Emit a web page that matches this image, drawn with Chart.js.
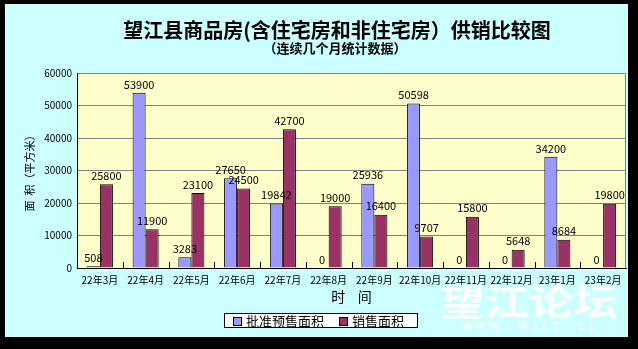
<!DOCTYPE html>
<html>
<head>
<meta charset="utf-8">
<script src="https://cdn.jsdelivr.net/npm/chart.js@4.4.0/dist/chart.umd.min.js"></script>
<style>
    body { margin: 0; background: #000; }
    #wrap { width: 638px; height: 349px; position: relative; }
</style>
</head>
<body>
<div id="wrap"><canvas id="chart1"></canvas></div>
<script>
var months = ["22年3月", "22年4月", "22年5月", "22年6月", "22年7月", "22年8月",
    "22年9月", "22年10月", "22年11月", "22年12月", "23年1月", "23年2月"];
var presaleArea = [508, 53900, 3283, 27650, 19842, 0, 25936, 50598, 0, 0, 34200, 0];
var salesArea = [25800, 11900, 23100, 24500, 42700, 19000, 16400, 9707, 15800, 5648, 8684, 19800];
var seriesNames = ["批准预售面积", "销售面积"];
var yTicks = [0, 10000, 20000, 30000, 40000, 50000, 60000];

var titleText = "望江县商品房(含住宅房和非住宅房）供销比较图";
var subtitleText = "（连续几个月统计数据）";

var fontName = "'Noto Sans CJK SC', 'Noto Sans', sans-serif";
Chart.defaults.font.family = fontName;
Chart.defaults.color = "#000";

// black frame, cyan panel, yellow plot area
var backgroundPlugin = {
    id: "panel",
    beforeDraw: function (chart) {
        var ctx = chart.ctx;
        var area = chart.chartArea;
        ctx.save();
        ctx.fillStyle = "#000";
        ctx.fillRect(0, 0, chart.width, chart.height);
        ctx.fillStyle = "#CCFFFF";
        ctx.fillRect(5, 4, 623, 333);
        ctx.fillStyle = "#FFFFCC";
        ctx.fillRect(area.left, area.top, area.right - area.left, area.bottom - area.top);
        ctx.restore();
    },
    afterDraw: function (chart) {
        var ctx = chart.ctx;
        var area = chart.chartArea;
        var x = chart.scales.x;
        ctx.save();
        // right edge of plot
        ctx.strokeStyle = "#808080";
        ctx.lineWidth = 1;
        ctx.beginPath();
        ctx.moveTo(Math.round(area.right) - 0.5, area.top);
        ctx.lineTo(Math.round(area.right) - 0.5, area.bottom);
        ctx.stroke();
        // inner tick marks between categories
        ctx.strokeStyle = "#000";
        ctx.beginPath();
        for (var i = 1; i < months.length; i++) {
            var px = Math.round(x.getPixelForValue(i - 0.5)) + 0.5;
            ctx.moveTo(px, area.bottom);
            ctx.lineTo(px, area.bottom - 6);
        }
        ctx.stroke();

        // titles
        ctx.fillStyle = "#000";
        ctx.textAlign = "center";
        ctx.textBaseline = "middle";
        ctx.font = "bold 20px " + fontName;
        ctx.fillText(titleText, 337, 30);
        ctx.font = "bold 13px " + fontName;
        ctx.fillText(subtitleText, 335, 48);

        // watermark (stretched a bit sideways like the original)
        ctx.fillStyle = "rgba(255,255,255,0.92)";
        ctx.save();
        ctx.translate(529, 302);
        ctx.scale(1.2, 1);
        ctx.font = "bold 37px " + fontName;
        ctx.fillText("望江论坛", 0, 0);
        ctx.restore();
        ctx.font = "bold 10px " + fontName;
        ctx.fillText("W  W  W  ·  W  J  L  T  ·  C  C", 529, 326);

        // legend box
        var lx = 224, ly = 313, lw = 194, lh = 15;
        ctx.fillStyle = "#fff";
        ctx.fillRect(lx, ly, lw, lh);
        ctx.strokeStyle = "#000";
        ctx.strokeRect(lx + 0.5, ly + 0.5, lw - 1, lh - 1);
        ctx.textAlign = "left";
        ctx.font = "13px " + fontName;
        var itemX = [233, 339];
        chart.data.datasets.forEach(function (ds, i) {
            ctx.fillStyle = ds.backgroundColor;
            ctx.fillRect(itemX[i], 317, 9, 9);
            ctx.strokeRect(itemX[i] + 0.5, 317.5, 8, 8);
            ctx.fillStyle = "#000";
            ctx.fillText(ds.label, itemX[i] + 13, 321);
        });
        ctx.restore();
    }
};

// value labels above every bar
var valueLabels = {
    id: "valueLabels",
    afterDatasetsDraw: function (chart) {
        var ctx = chart.ctx;
        ctx.save();
        ctx.font = "11px " + fontName;
        ctx.fillStyle = "#000";
        ctx.textAlign = "center";
        ctx.textBaseline = "bottom";
        chart.data.datasets.forEach(function (ds, i) {
            chart.getDatasetMeta(i).data.forEach(function (bar, j) {
                ctx.fillText(String(ds.data[j]), bar.x, bar.y - 3);
            });
        });
        ctx.restore();
    }
};

var ctx = document.getElementById("chart1");
var chart = new Chart(ctx, {
    type: "bar",
    data: {
        labels: months,
        datasets: [
            {
                label: seriesNames[0],
                data: presaleArea,
                backgroundColor: "#9999FF",
                borderColor: "#000",
                borderWidth: 1
            },
            {
                label: seriesNames[1],
                data: salesArea,
                backgroundColor: "#993366",
                borderColor: "#000",
                borderWidth: 1
            }
        ]
    },
    options: {
        responsive: true,
        maintainAspectRatio: false,
        animation: false,
        events: [],
        layout: { padding: { top: 73, right: 12, bottom: 0, left: 0 } },
        datasets: { bar: { categoryPercentage: 0.57, barPercentage: 1 } },
        plugins: {
            legend: { display: false },
            tooltip: { enabled: false }
        },
        scales: {
            x: {
                grid: { display: false, offset: true },
                border: { display: true, color: "#000" },
                ticks: { font: { size: 10 }, padding: -2, maxRotation: 0, autoSkip: false },
                title: {
                    display: true,
                    text: "时    间",
                    font: { size: 14 },
                    padding: { top: 0, bottom: 44 }
                },
                afterFit: function (scale) { scale.height = 81; }
            },
            y: {
                min: 0,
                max: 60000,
                afterBuildTicks: function (scale) {
                    scale.ticks = yTicks.map(function (v) { return { value: v }; });
                },
                grid: { color: "#808080", drawTicks: false },
                border: { display: true, color: "#000" },
                ticks: {
                    font: { size: 10 },
                    padding: 5,
                    callback: function (value) { return String(value); }
                },
                title: {
                    display: true,
                    text: "面  积（平方米）",
                    font: { size: 11 },
                    padding: { top: 23, bottom: 0 }
                },
                afterFit: function (scale) { scale.width = 77; }
            }
        }
    },
    plugins: [backgroundPlugin, valueLabels]
});
</script>
</body>
</html>
